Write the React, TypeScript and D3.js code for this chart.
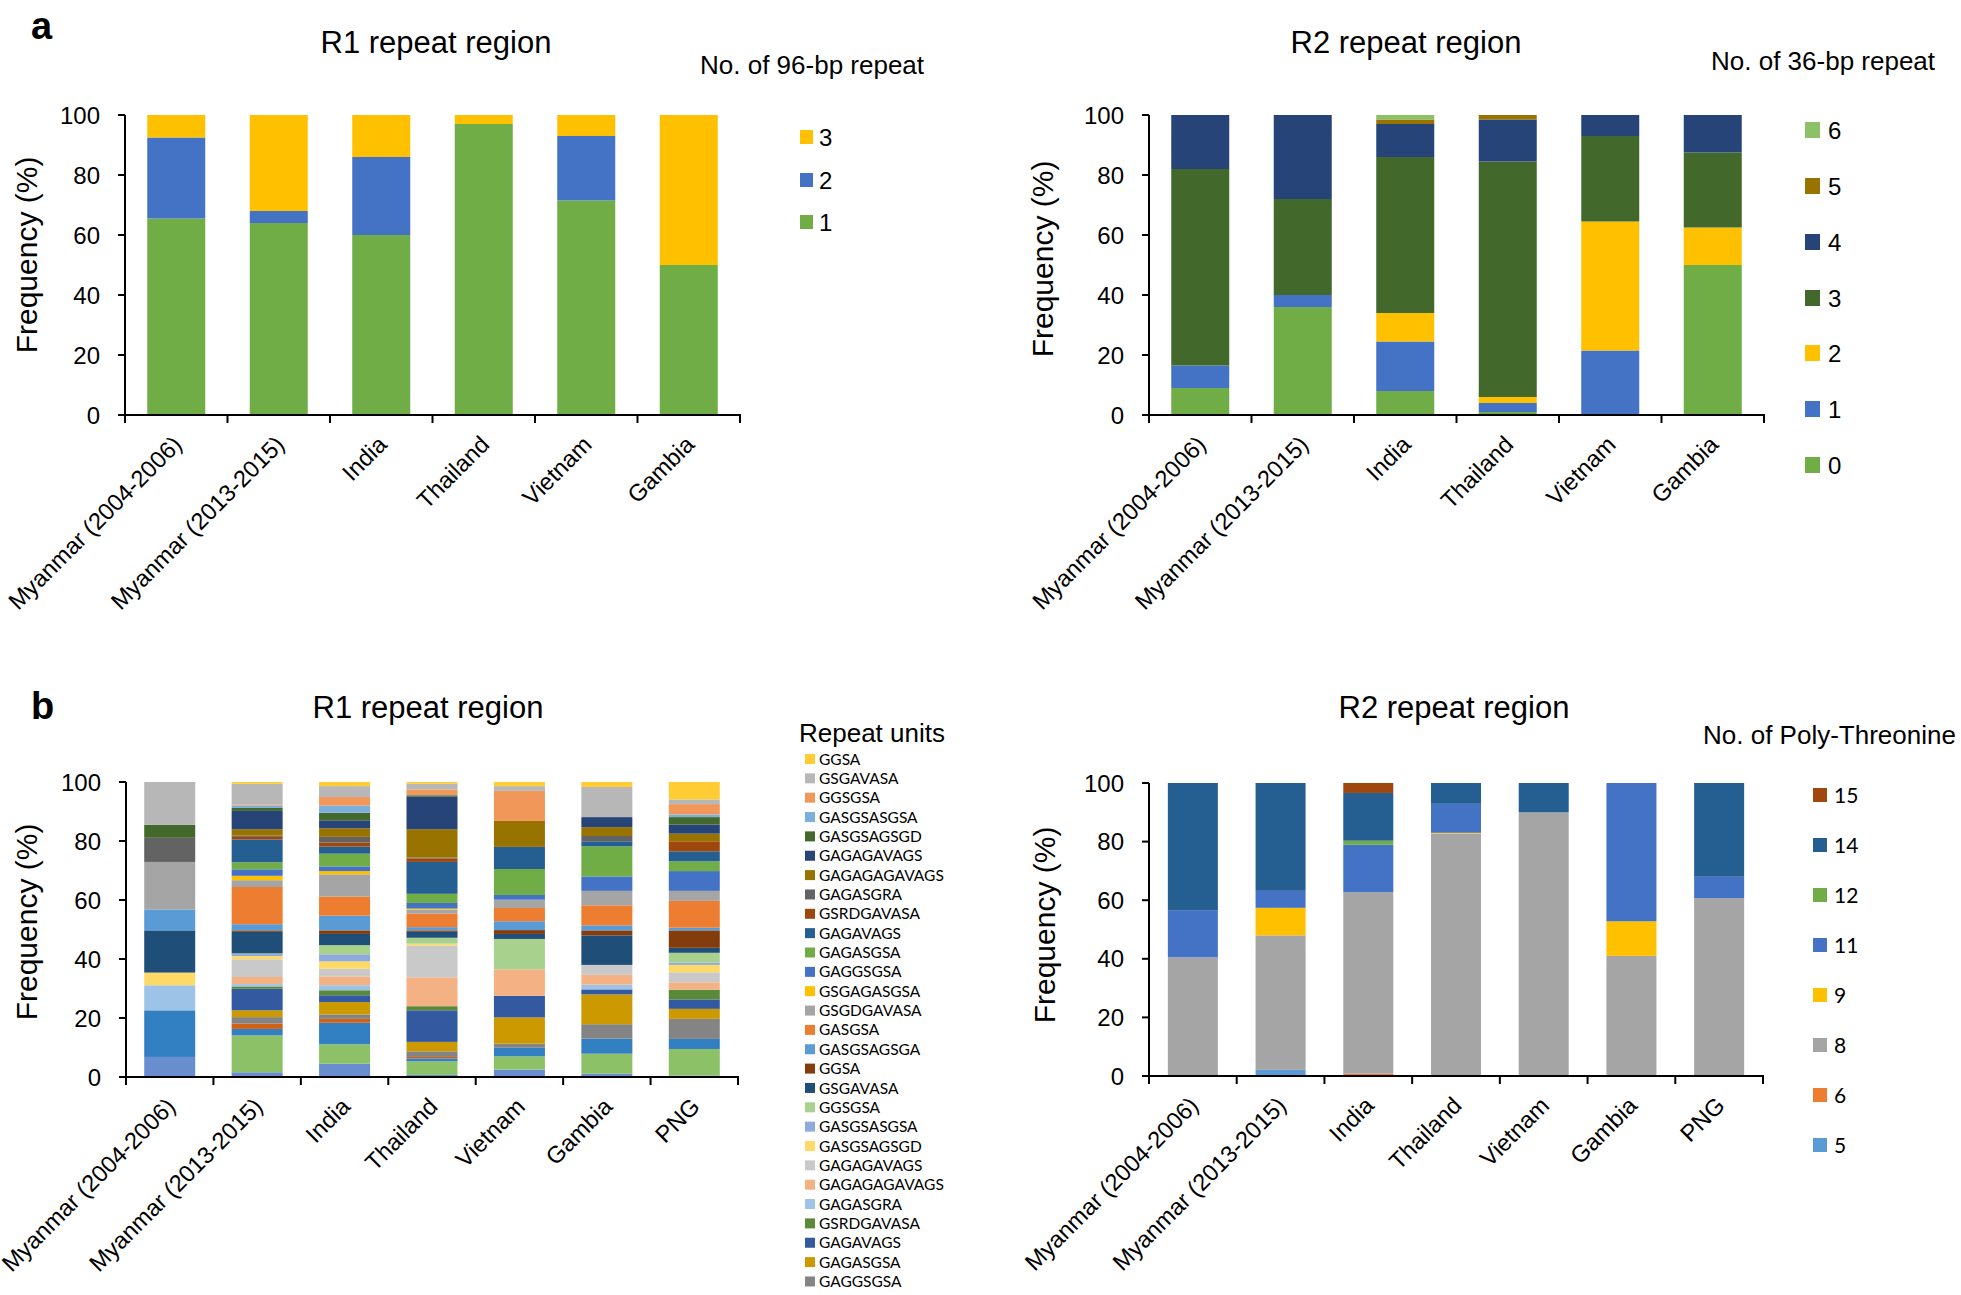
import React from "react";
import * as d3 from "d3";

// ---------- categories ----------
const countriesA = ["Myanmar (2004-2006)", "Myanmar (2013-2015)", "India", "Thailand", "Vietnam", "Gambia"];
const countriesB = ["Myanmar (2004-2006)", "Myanmar (2013-2015)", "India", "Thailand", "Vietnam", "Gambia", "PNG"];
const yTicks = [0, 20, 40, 60, 80, 100];

// ---------- panel a, R1: number of 96-bp repeats ----------
const r1aKeys = ["1", "2", "3"];
const r1aColors = ["#70AD47", "#4472C4", "#FFC000"];
const r1aOne = [65.5, 64, 60, 97, 71.5, 50];
const r1aTwo = [27, 4, 26, 0, 21.5, 0];
const r1aThree = [7.5, 32, 14, 3, 7, 50];

// ---------- panel a, R2: number of 36-bp repeats ----------
const r2aKeys = ["0", "1", "2", "3", "4", "5", "6"];
const r2aColors = ["#70AD47", "#4472C4", "#FFC000", "#43682B", "#264478", "#997300", "#8CC168"];
const r2aZero = [9, 36, 8, 1, 0, 50];
const r2aOne = [7.5, 4, 16.5, 3, 21.5, 0];
const r2aTwo = [0, 0, 9.5, 2, 43, 12.5];
const r2aThree = [65.5, 32, 52, 78.5, 28.5, 25];
const r2aFour = [18, 28, 11, 14, 7, 12.5];
const r2aFive = [0, 0, 1.5, 1.5, 0, 0];
const r2aSix = [0, 0, 1.5, 0, 0, 0];

// ---------- panel b, R1: repeat units (stack order bottom -> top) ----------
const unitNames = [
  "GASGSAGSGA", "GASGSA", "GSGDGAVASA", "GSGAGASGSA", "GAGGSGSA", "GAGASGSA", "GAGAVAGS", "GSRDGAVASA",
  "GAGASGRA", "GAGAGAGAVAGS", "GAGAGAVAGS", "GASGSAGSGD", "GASGSASGSA", "GGSGSA", "GSGAVASA", "GGSA",
  "GASGSAGSGA", "GASGSA", "GSGDGAVASA", "GSGAGASGSA", "GAGGSGSA", "GAGASGSA", "GAGAVAGS", "GSRDGAVASA",
  "GAGASGRA", "GAGAGAGAVAGS", "GAGAGAVAGS", "GASGSAGSGD", "GASGSASGSA", "GGSGSA", "GSGAVASA", "GGSA",
];
const unitColors = [
  "#698ED0", "#8CC168", "#327FC2", "#D26012", "#848484", "#CC9A00", "#335AA1", "#5A8A39",
  "#9DC3E6", "#F4B183", "#C9C9C9", "#FFD966", "#8FAADC", "#A9D18E", "#1F4E79", "#843C0C",
  "#5B9BD5", "#ED7D31", "#A5A5A5", "#FFC000", "#4472C4", "#70AD47", "#255E91", "#9E480E",
  "#636363", "#997300", "#264478", "#43682B", "#7CAFDD", "#F1975A", "#B7B7B7", "#FFCD33",
];
const r1bMyanmar0406 = [6.8, 0, 15.8, 0, 0, 0, 0, 0, 8.5, 0, 0, 4.3, 0, 0, 14.3, 0, 7.1, 0, 16.1, 0, 0, 0, 0, 0, 8.2, 0, 0, 4.4, 0, 0, 14.5, 0];
const r1bMyanmar1315 = [1.6, 12.5, 2.2, 1.8, 2.2, 2.3, 7.3, 0.8, 0.8, 2.4, 6.0, 1.1, 0.7, 0.2, 7.3, 0.5, 2.1, 12.6, 2.3, 1.5, 2.2, 2.4, 7.7, 0.9, 0.4, 2.2, 6.2, 1.0, 0.8, 0.3, 7.1, 0.6];
const r1bIndia = [4.5, 6.6, 7.3, 1.3, 1.5, 4.2, 2.3, 1.7, 1.7, 3.0, 2.6, 2.5, 2.4, 3.1, 3.8, 1.2, 5.0, 6.5, 7.5, 1.1, 1.6, 4.3, 2.4, 1.4, 1.9, 2.9, 2.7, 2.6, 2.4, 2.9, 3.7, 1.4];
const r1bThailand = [0.7, 4.6, 1.0, 0.5, 1.9, 3.2, 10.7, 1.4, 0, 9.8, 10.8, 0.6, 0, 2.0, 2.0, 0.5, 1.1, 4.6, 1.3, 0.4, 1.9, 3.1, 10.8, 1.2, 0.3, 9.6, 11.0, 0.5, 0.1, 1.9, 1.9, 0.6];
const r1bVietnam = [2.5, 4.5, 2.9, 0, 1.4, 8.9, 7.3, 0, 0, 9.0, 0, 0, 0, 10.3, 1.7, 1.3, 3.0, 4.5, 2.8, 0, 1.6, 8.8, 7.5, 0, 0, 8.8, 0, 0, 0, 10.2, 1.6, 1.4];
const r1bGambia = [1.1, 6.8, 5.1, 0, 4.9, 10.1, 1.7, 0, 1.6, 3.3, 3.4, 0, 0, 0, 10.0, 1.7, 1.7, 6.8, 4.9, 0, 4.9, 10.2, 1.7, 0, 1.8, 3.0, 3.4, 0, 0, 0, 10.2, 1.7];
const r1bPNG = [0.5, 9.0, 3.4, 0, 6.8, 3.4, 3.2, 3.3, 0, 2.5, 3.4, 2.5, 0.8, 3.3, 1.7, 5.9, 0.9, 9.1, 3.4, 0, 6.7, 3.3, 3.4, 3.4, 0, 2.6, 3.1, 2.5, 0.9, 3.5, 1.6, 5.9];

// ---------- panel b, R2: number of poly-threonine ----------
const r2bKeys = ["5", "6", "8", "9", "11", "12", "14", "15"];
const r2bColors = ["#5B9BD5", "#ED7D31", "#A5A5A5", "#FFC000", "#4472C4", "#70AD47", "#255E91", "#9E480E"];
const r2bFive = [0, 2.1, 0, 0, 0, 0, 0];
const r2bSix = [0, 0, 0.8, 0, 0, 0, 0];
const r2bEight = [40.5, 45.9, 61.9, 82.7, 90.0, 41.0, 60.7];
const r2bNine = [0, 9.4, 0, 0.3, 0, 11.8, 0];
const r2bEleven = [16.1, 5.8, 16.2, 9.9, 0, 47.2, 7.3];
const r2bTwelve = [0, 0, 1.4, 0, 0, 0, 0];
const r2bFourteen = [43.4, 36.8, 16.3, 7.1, 10.0, 0, 32.0];
const r2bFifteen = [0, 0, 3.4, 0, 0, 0, 0];

const ARIAL = "'Liberation Sans', Arial, Helvetica, sans-serif";
const CALIBRI = "Lato, 'Open Sans', sans-serif";
const H = 1295;

type Row = { [k: string]: any };

function buildRows(cats: string[], keys: string[], series: number[][]): Row[] {
  return cats.map((c, i) => {
    const r: Row = { cat: c };
    keys.forEach((k, j) => (r[k] = series[j][i]));
    return r;
  });
}

function rowsFromCategories(cats: string[], keys: string[], perCat: number[][]): Row[] {
  return cats.map((c, i) => {
    const r: Row = { cat: c };
    keys.forEach((k, j) => (r[k] = perCat[i][j]));
    return r;
  });
}

function StackPanel(props: {
  cats: string[]; keys: string[]; colors: string[]; rows: Row[];
  x0: number; x1: number; yTop: number; yBot: number; barW: number;
  ylabelX: number; ylabelY: number;
}) {
  const { cats, keys, colors, rows, x0, x1, yTop, yBot, barW, ylabelX, ylabelY } = props;
  const x = d3.scaleBand<string>().domain(cats).range([x0, x1]).padding(0);
  const y = d3.scaleLinear().domain([0, 100]).range([yBot, yTop]);
  const stacked = d3.stack<Row>().keys(keys)(rows);
  const bw = x.bandwidth();
  const boundaries = cats.map((c) => x(c) as number).concat([x1]);
  return (
    <g>
      {stacked.map((layer, li) => (
        <g key={li} fill={colors[li]}>
          {layer.map((d, ci) => {
            const h = y(d[0]) - y(d[1]);
            if (h <= 0.01) return null;
            const cx = (x(d.data.cat) as number) + bw / 2;
            return <rect key={ci} x={cx - barW / 2} y={y(d[1])} width={barW} height={h} />;
          })}
        </g>
      ))}
      {/* y axis */}
      <line x1={x0} x2={x0} y1={yTop} y2={yBot} stroke="#000" strokeWidth={2} />
      {yTicks.map((t) => (
        <g key={t}>
          <line x1={x0 - 7} x2={x0} y1={y(t)} y2={y(t)} stroke="#000" strokeWidth={2} />
          <text x={x0 - 25} y={y(t)} dy="0.36em" textAnchor="end" fontSize={24} fontFamily={ARIAL} fill="#000">{t}</text>
        </g>
      ))}
      {/* x axis */}
      <line x1={x0 - 1} x2={x1 + 1} y1={yBot} y2={yBot} stroke="#000" strokeWidth={2} />
      {boundaries.map((b, i) => (
        <line key={i} x1={b} x2={b} y1={yBot} y2={yBot + 8} stroke="#000" strokeWidth={2} />
      ))}
      {cats.map((c) => {
        const cx = (x(c) as number) + bw / 2;
        return (
          <text key={c} transform={`translate(${cx + 7},${yBot + 31}) rotate(-45)`} textAnchor="end"
            fontSize={23.6} fontFamily={ARIAL} fill="#000">{c}</text>
        );
      })}
      <text transform={`translate(${ylabelX},${ylabelY}) rotate(-90)`} textAnchor="middle" fontSize={30}
        fontFamily={ARIAL} fill="#000">Frequency (%)</text>
    </g>
  );
}

export default function App() {
  const rowsR1a = buildRows(countriesA, r1aKeys, [r1aOne, r1aTwo, r1aThree]);
  const rowsR2a = buildRows(countriesA, r2aKeys, [r2aZero, r2aOne, r2aTwo, r2aThree, r2aFour, r2aFive, r2aSix]);
  const unitKeys = unitNames.map((_, i) => "u" + i);
  const rowsR1b = rowsFromCategories(countriesB, unitKeys, [
    r1bMyanmar0406, r1bMyanmar1315, r1bIndia, r1bThailand, r1bVietnam, r1bGambia, r1bPNG,
  ]);
  const rowsR2b = buildRows(countriesB, r2bKeys,
    [r2bFive, r2bSix, r2bEight, r2bNine, r2bEleven, r2bTwelve, r2bFourteen, r2bFifteen]);

  const r1aLegendY = [222, 180, 137];
  const r2aLegendY = [465, 409, 353, 298, 242, 186, 130];

  return (
    <div style={{ position: "absolute", left: 0, top: 0, width: 1961, height: H, overflow: "hidden", background: "#fff" }}>
      <svg width={1961} height={H} style={{ display: "block" }}>
        <rect width={1961} height={H} fill="#fff" />
        {/* panel labels */}
        <text x={31} y={39} fontSize={38} fontWeight="bold" fontFamily={ARIAL}>a</text>
        <text x={31} y={719} fontSize={38} fontWeight="bold" fontFamily={ARIAL}>b</text>

        {/* titles */}
        <text x={436} y={53} textAnchor="middle" fontSize={31} fontFamily={ARIAL}>R1 repeat region</text>
        <text x={1406} y={53} textAnchor="middle" fontSize={31} fontFamily={ARIAL}>R2 repeat region</text>
        <text x={428} y={718} textAnchor="middle" fontSize={31} fontFamily={ARIAL}>R1 repeat region</text>
        <text x={1454} y={718} textAnchor="middle" fontSize={31} fontFamily={ARIAL}>R2 repeat region</text>

        {/* panel a R1 */}
        <StackPanel cats={countriesA} keys={r1aKeys} colors={r1aColors} rows={rowsR1a}
          x0={125} x1={740} yTop={115} yBot={415} barW={58} ylabelX={37} ylabelY={255} />
        <text x={700} y={74} fontSize={26} fontFamily={ARIAL}>No. of 96-bp repeat</text>
        {r1aKeys.map((k, i) => (
          <g key={k}>
            <rect x={800} y={r1aLegendY[i] - 7} width={13} height={14} fill={r1aColors[i]} />
            <text x={819} y={r1aLegendY[i]} dy="0.36em" fontSize={24} fontFamily={ARIAL}>{k}</text>
          </g>
        ))}

        {/* panel a R2 */}
        <StackPanel cats={countriesA} keys={r2aKeys} colors={r2aColors} rows={rowsR2a}
          x0={1149} x1={1764} yTop={115} yBot={415} barW={58} ylabelX={1053} ylabelY={259} />
        <text x={1711} y={70} fontSize={26} fontFamily={ARIAL}>No. of 36-bp repeat</text>
        {r2aKeys.map((k, i) => (
          <g key={k}>
            <rect x={1805} y={r2aLegendY[i] - 8} width={15} height={16} fill={r2aColors[i]} />
            <text x={1828} y={r2aLegendY[i]} dy="0.36em" fontSize={24} fontFamily={ARIAL}>{k}</text>
          </g>
        ))}

        {/* panel b R1 */}
        <StackPanel cats={countriesB} keys={unitKeys} colors={unitColors} rows={rowsR1b}
          x0={126} x1={738} yTop={782} yBot={1077} barW={51} ylabelX={37} ylabelY={922} />
        <text x={799} y={742} fontSize={26} fontFamily={ARIAL}>Repeat units</text>
        {unitNames.map((n, j) => {
          const i = unitNames.length - 1 - j; // legend top = last series
          const cy = 759 + j * 19.35;
          if (cy + 8 > H) return null; // the legend runs past the figure's bottom edge
          return (
            <g key={j}>
              <rect x={805} y={cy - 5} width={10} height={10} fill={unitColors[i]} />
              <text x={819} y={cy} dy="0.36em" fontSize={15.5} fontFamily={CALIBRI}>{unitNames[i]}</text>
            </g>
          );
        })}

        {/* panel b R2 */}
        <StackPanel cats={countriesB} keys={r2bKeys} colors={r2bColors} rows={rowsR2b}
          x0={1149} x1={1763} yTop={783} yBot={1076} barW={50} ylabelX={1055} ylabelY={925} />
        <text x={1703} y={744} fontSize={26} fontFamily={ARIAL}>No. of Poly-Threonine</text>
        {r2bKeys.map((k, j) => {
          const i = r2bKeys.length - 1 - j;
          const cy = 795 + j * 50;
          return (
            <g key={k}>
              <rect x={1813} y={cy - 7} width={14} height={14} fill={r2bColors[i]} />
              <text x={1834} y={cy} dy="0.36em" fontSize={21} fontFamily={CALIBRI}>{r2bKeys[i]}</text>
            </g>
          );
        })}
      </svg>
    </div>
  );
}
